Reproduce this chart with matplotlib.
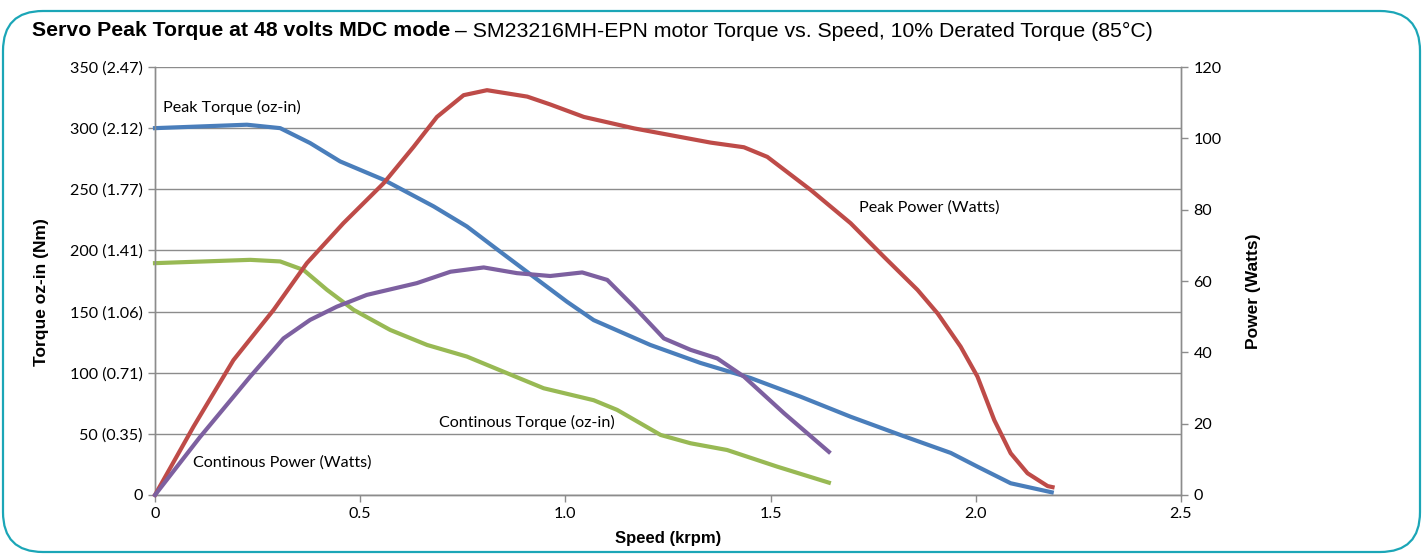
import numpy as np
import matplotlib.pyplot as plt
from matplotlib.patches import FancyBboxPatch

# --- Data ---
# peak torque (oz-in) vs speed (krpm)
pt_speed = [0, 0.224, 0.305, 0.378, 0.451, 0.557, 0.679, 0.760, 0.841, 0.922, 1.004,
            1.069, 1.207, 1.329, 1.451, 1.573, 1.695, 1.817, 1.939, 2.004, 2.085, 2.185]
pt_torque = [300, 302.8, 300, 287.8, 272.8, 257.8, 236, 219.6, 199, 178.6, 158,
             143, 122.7, 108, 95.7, 80.4, 64, 49, 34.4, 23.2, 9.6, 2.2]

# continuous torque (oz-in)
ct_speed = [0, 0.232, 0.305, 0.362, 0.419, 0.484, 0.573, 0.663, 0.760, 0.858, 0.947,
            1.069, 1.126, 1.232, 1.305, 1.394, 1.516, 1.642]
ct_torque = [189.6, 192.3, 191, 184, 167.8, 151.4, 135, 122.7, 113.2, 99.6, 87.3,
             77.5, 69.6, 49.1, 42.3, 36.8, 23.2, 10.1]

# peak power (W)
pp_speed = [0, 0.0935, 0.191, 0.289, 0.370, 0.459, 0.557, 0.630, 0.687, 0.752, 0.809,
            0.907, 0.963, 1.045, 1.167, 1.354, 1.435, 1.492, 1.598, 1.695, 1.776, 1.858,
            1.907, 1.963, 2.004, 2.045, 2.085, 2.126, 2.175, 2.187]
pp_power = [0, 19.1, 37.8, 51.9, 65, 76.2, 87.4, 97.6, 106, 112.1, 113.5,
            111.7, 109.5, 106, 102.8, 98.8, 97.5, 94.8, 85.5, 76.2, 66.8, 57.5,
            50.9, 41.6, 33.2, 21, 11.7, 6.1, 2.5, 2.2]

# continuous power (W)
cp_speed = [0, 0.110, 0.232, 0.313, 0.378, 0.443, 0.516, 0.638, 0.720, 0.801, 0.882,
            0.963, 1.041, 1.102, 1.167, 1.240, 1.305, 1.370, 1.435, 1.533, 1.642]
cp_power = [0, 16.3, 33.2, 43.9, 49.1, 52.8, 56.1, 59.4, 62.6, 63.8, 62.2,
            61.4, 62.4, 60.3, 52.8, 43.9, 40.7, 38.3, 33.2, 22.9, 12.1]

torque_ticks = [0, 50, 100, 150, 200, 250, 300, 350]
torque_labels = ["0", "50 (0.35)", "100 (0.71)", "150 (1.06)", "200 (1.41)",
                 "250 (1.77)", "300 (2.12)", "350 (2.47)"]
power_ticks = [0, 20, 40, 60, 80, 100, 120]
speed_ticks = [0, 0.5, 1.0, 1.5, 2.0, 2.5]
speed_labels = ["0", "0.5", "1.0", "1.5", "2.0", "2.5"]

tick_font = "Lato"
head_font = "Liberation Sans"
gray = "#8c8c8c"
fs = 11.6

fig = plt.figure(figsize=(14.26, 5.54), dpi=100)
ax = fig.add_axes([155 / 1426, 1 - 495 / 554, (1181 - 155) / 1426, (495 - 67) / 554])
ax2 = ax.twinx()

# rounded frame
frame = FancyBboxPatch((3 / 1426, 2 / 554), 1417 / 1426, 541 / 554,
                       boxstyle="round,pad=0,rounding_size=0.028",
                       transform=fig.transFigure, fill=False,
                       edgecolor="#1ba6b7", linewidth=1.6, mutation_aspect=1426 / 554)
fig.patches.append(frame)

lw = 3.0
ax.plot(pt_speed, pt_torque, color="#4a7ebb", lw=lw, solid_joinstyle="round", clip_on=False, zorder=3)
ax.plot(ct_speed, ct_torque, color="#98b954", lw=lw, solid_joinstyle="round", clip_on=False, zorder=3)
ax2.plot(pp_speed, pp_power, color="#be4b48", lw=lw, solid_joinstyle="round", clip_on=False, zorder=3)
ax2.plot(cp_speed, cp_power, color="#7d60a0", lw=lw, solid_joinstyle="round", clip_on=False, zorder=3)

ax.set_xlim(0, 2.5)
ax.set_ylim(0, 350)
ax2.set_ylim(0, 120)

ax.set_yticks(torque_ticks)
ax.set_yticklabels(torque_labels, fontfamily=tick_font, fontsize=fs)
ax.set_xticks(speed_ticks)
ax.set_xticklabels(speed_labels, fontfamily=tick_font, fontsize=fs)
ax2.set_yticks(power_ticks)
ax2.set_yticklabels([str(v) for v in power_ticks], fontfamily=tick_font, fontsize=fs)

ax.yaxis.grid(True, color=gray, lw=1.0)
ax.set_axisbelow(True)
for a in (ax, ax2):
    a.spines["top"].set_visible(False)
    for s in ("left", "right", "bottom"):
        a.spines[s].set_color(gray)
        a.spines[s].set_linewidth(1.0)
    a.tick_params(direction="out", length=5, color=gray, width=1.0, pad=4)

ax.set_xlabel("Speed (krpm)", fontfamily=head_font, fontweight="bold", fontsize=12, labelpad=7)
ax.set_ylabel("Torque oz-in (Nm)", fontfamily=head_font, fontweight="bold", fontsize=12.5)
ax2.set_ylabel("Power (Watts)", fontfamily=head_font, fontweight="bold", fontsize=12.5)
ax.yaxis.set_label_coords(-106 / 1026, 0.475)
ax2.yaxis.set_label_coords(1 + 65 / 1026, 0.475)

# series labels
ax.text(0.019, 317, "Peak Torque (oz-in)", fontfamily=tick_font, fontsize=fs, va="center")
ax.text(0.0935, 26.4, "Continous Power (Watts)", fontfamily=tick_font, fontsize=fs, va="center")
ax.text(0.693, 59.2, "Continous Torque (oz-in)", fontfamily=tick_font, fontsize=fs, va="center")
ax.text(1.715, 235.4, "Peak Power (Watts)", fontfamily=tick_font, fontsize=fs, va="center")

# title: bold part + normal part
t1 = fig.text(32 / 1426, 1 - 31 / 554, "Servo Peak Torque at 48 volts MDC mode",
              fontfamily=head_font, fontweight="bold", fontsize=15.3, va="center")
fig.canvas.draw()
bb = t1.get_window_extent()
fig.text(bb.x1 / 1426 + 5 / 1426, 1 - 31 / 554,
         "\u2013 SM23216MH-EPN motor Torque vs. Speed, 10% Derated Torque (85\u00b0C)",
         fontfamily=head_font, fontsize=15.3, va="center")

fig.savefig("out.png", dpi=100)
